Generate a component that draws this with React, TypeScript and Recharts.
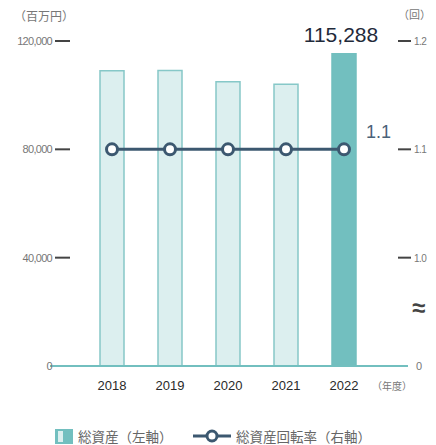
import { Bar, Cell, ComposedChart, LabelList, Line, XAxis, YAxis } from "recharts";

const years = ["2018", "2019", "2020", "2021", "2022"];
const totalAssets = [109000, 109100, 105000, 104000, 115288];
const turnover = [1.1, 1.1, 1.1, 1.1, 1.1];
const leftTicks = [0, 40000, 80000, 120000];
const rightTicks = [0.9, 1.0, 1.1, 1.2];

const data = years.map((year, i) => ({ year, assets: totalAssets[i], turnover: turnover[i] }));

const teal = "#72bfbf";
const tealLight = "#dcefef";
const tealEdge = "#86c8c8";
const navy = "#3c5870";
const font = "'Liberation Sans', Arial, sans-serif";
const jp = "'Noto Sans CJK JP', sans-serif";

const LeftTick = ({ y, payload }: any) => (
  <g>
    <text x={52} y={y} dy={4} textAnchor="end" fontSize={11} letterSpacing={-0.7} fill="#777" fontFamily={font}>
      {payload.value.toLocaleString("en-US")}
    </text>
    {payload.value !== 0 && <line x1={55} x2={70} y1={y} y2={y} stroke="#444" strokeWidth={2} />}
  </g>
);

const RightTick = ({ y, payload }: any) =>
  payload.value < 0.95 ? (
    <text x={416} y={y} dy={4} fontSize={11} fill="#777" fontFamily={font}>0</text>
  ) : (
    <g>
      <line x1={398} x2={411} y1={y} y2={y} stroke="#444" strokeWidth={2} />
      <text x={414} y={y} dy={4} fontSize={10} letterSpacing={-0.6} fill="#777" fontFamily={font}>
        {payload.value.toFixed(1)}
      </text>
    </g>
  );

const BarLabel = ({ x, y, width, index }: any) =>
  index === 4 ? (
    <text x={x + width / 2 - 3} y={y - 12} textAnchor="middle" fontSize={21} fill="#1f2a3a" fontFamily={font}>
      {totalAssets[index].toLocaleString("en-US")}
    </text>
  ) : null;

const LineLabel = ({ x, y, index }: any) =>
  index === 4 ? (
    <text x={x + 22} y={y - 11} fontSize={18} fill="#4a6278" fontFamily={font}>
      {turnover[index].toFixed(1)}
    </text>
  ) : null;

export default function App() {
  return (
    <div style={{ position: "absolute", left: 0, top: 0, width: 436, height: 445, background: "#fff" }}>
      <ComposedChart width={436} height={445} data={data} margin={{ top: 41, right: 0, left: 0, bottom: 49 }}>
        <XAxis
          dataKey="year"
          height={30}
          padding={{ left: 33, right: 35 }}
          axisLine={{ stroke: teal, strokeWidth: 2 }}
          tickLine={false}
          tick={{ fontSize: 13, fill: "#2a2a2a", fontFamily: font }}
          tickMargin={9}
        />
        <YAxis yAxisId="l" width={50} domain={[0, 120000]} ticks={leftTicks} axisLine={false} tickLine={false} tick={<LeftTick />} />
        <YAxis yAxisId="r" orientation="right" width={28} domain={[0.9, 1.2]} ticks={rightTicks} axisLine={false} tickLine={false} tick={<RightTick />} />
        <Bar yAxisId="l" dataKey="assets" barSize={24} isAnimationActive={false}>
          {data.map((_, i) => (
            <Cell key={i} fill={i === 4 ? teal : tealLight} stroke={i === 4 ? teal : tealEdge} strokeWidth={1.5} />
          ))}
          <LabelList dataKey="assets" content={<BarLabel />} />
        </Bar>
        <Line
          yAxisId="r"
          dataKey="turnover"
          stroke={navy}
          strokeWidth={3}
          dot={{ r: 5.5, fill: "#fff", stroke: navy, strokeWidth: 3 }}
          isAnimationActive={false}
        >
          <LabelList dataKey="turnover" content={<LineLabel />} />
        </Line>
      </ComposedChart>

      <div style={{ position: "absolute", left: 14, top: 7, fontSize: 12, color: "#777", fontFamily: jp }}>（百万円）</div>
      <div style={{ position: "absolute", left: 398, top: 6, fontSize: 11, color: "#777", fontFamily: jp }}>（回）</div>
      <div style={{ position: "absolute", left: 372, top: 378, fontSize: 10, color: "#777", fontFamily: jp }}>（年度）</div>
      <div style={{ position: "absolute", left: 412, top: 296, fontSize: 24, lineHeight: "24px", fontWeight: "bold", color: "#444", fontFamily: font }}>≈</div>

      <div style={{ position: "absolute", left: 55, top: 429, width: 18, height: 15, background: teal }}>
        <span style={{ position: "absolute", left: 3, top: 2, width: 5, height: 11, background: tealLight }} />
      </div>
      <div style={{ position: "absolute", left: 78, top: 427, fontSize: 13.5, lineHeight: "18px", color: "#666", fontFamily: jp, whiteSpace: "nowrap" }}>総資産（左軸）</div>
      <svg width={38} height={14} style={{ position: "absolute", left: 193, top: 429 }}>
        <line x1={0} x2={38} y1={7} y2={7} stroke={navy} strokeWidth={3} />
        <circle cx={19} cy={7} r={5} fill="#fff" stroke={navy} strokeWidth={3} />
      </svg>
      <div style={{ position: "absolute", left: 236, top: 427, fontSize: 13.5, lineHeight: "18px", color: "#666", fontFamily: jp, whiteSpace: "nowrap" }}>総資産回転率（右軸）</div>
    </div>
  );
}
